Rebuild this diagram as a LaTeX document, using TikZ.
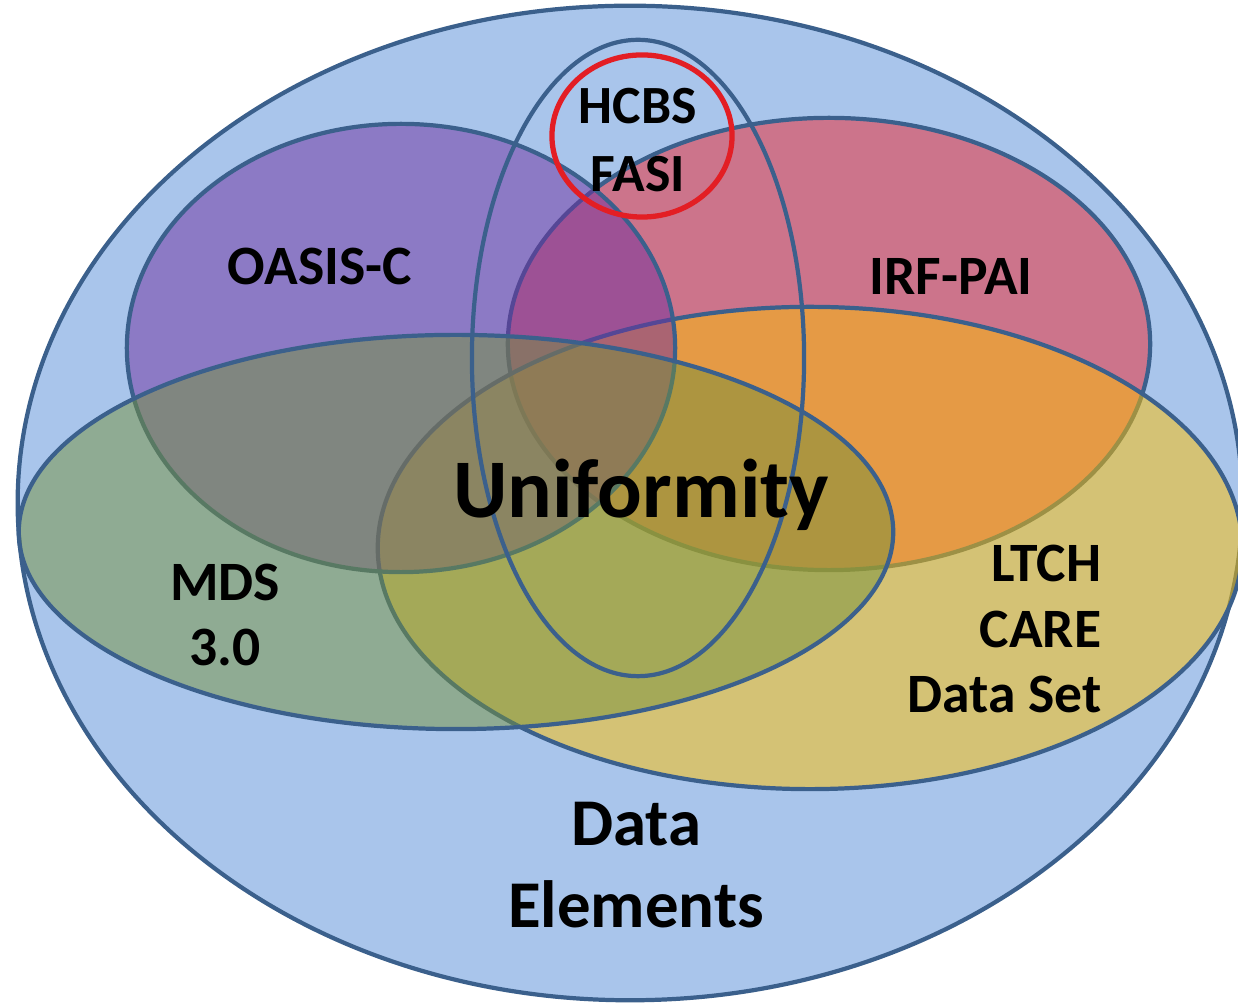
\documentclass[tikz,border=0pt]{standalone}
\usepackage{fontspec}
\setmainfont{Carlito}
\usetikzlibrary{shapes.geometric}

\definecolor{bgblue}{RGB}{169,197,235}
\definecolor{edgeblue}{RGB}{59,96,140}
\definecolor{irfred}{RGB}{239,37,45}
\definecolor{ltchgold}{RGB}{255,192,0}
\definecolor{oasispurple}{RGB}{112,48,160}
\definecolor{mdsgreen}{RGB}{118,146,60}
\definecolor{ringred}{RGB}{227,30,36}

\begin{document}
\begin{tikzpicture}[x=0.01cm,y=-0.01cm,
  set node/.style={ellipse,draw=edgeblue,line width=1.2pt,inner sep=0pt,fill opacity=0.5},
  label node/.style={inner sep=0pt,font=\bfseries\fontsize{15.8}{18.5}\selectfont}]
  \useasboundingbox (0,0) rectangle (1238,1004);
  \clip (0,0) rectangle (1238,1004);
  \node[set node,fill=bgblue,fill opacity=1,minimum width=12.24cm,minimum height=9.94cm] (data) at (630,503) {};
  \node[set node,fill=irfred,minimum width=6.42cm,minimum height=4.52cm] (irf) at (829,344) {};
  \node[set node,fill=ltchgold,minimum width=8.64cm,minimum height=4.82cm] (ltch) at (810,548) {};
  \node[set node,fill=oasispurple,minimum width=5.48cm,minimum height=4.48cm] (oasis) at (401,348) {};
  \node[set node,fill=mdsgreen,minimum width=8.74cm,minimum height=3.94cm] (mds) at (456,532) {};
  \node[set node,minimum width=3.32cm,minimum height=6.36cm] (hcbs) at (638,358) {};
  \node[ellipse,draw=ringred,line width=1.5pt,inner sep=0pt,minimum width=1.80cm,minimum height=1.62cm] (ring) at (642,136) {};

  \node[label node,align=center,font=\bfseries\fontsize{15.3}{19.3}\selectfont] (hcbstext) at (638,140) {HCBS\\FASI};
  \node[label node,anchor=base] (oasistext) at (320,285) {OASIS-C};
  \node[label node,anchor=base] (irftext) at (951,295) {IRF-PAI};
  \node[label node,anchor=base,font=\bfseries\fontsize{23.7}{28}\selectfont] (unitext) at (641,518) {Uniformity};
  \node[label node,align=center] (mdstext) at (225,615) {MDS\\3.0};
  \node[label node,align=right,anchor=east] (ltchtext) at (1102,629) {LTCH\\CARE\\Data Set};
  \node[label node,align=center,font=\bfseries\fontsize{19}{23.3}\selectfont] (datatext) at (636,865) {Data\\Elements};
\end{tikzpicture}
\end{document}
